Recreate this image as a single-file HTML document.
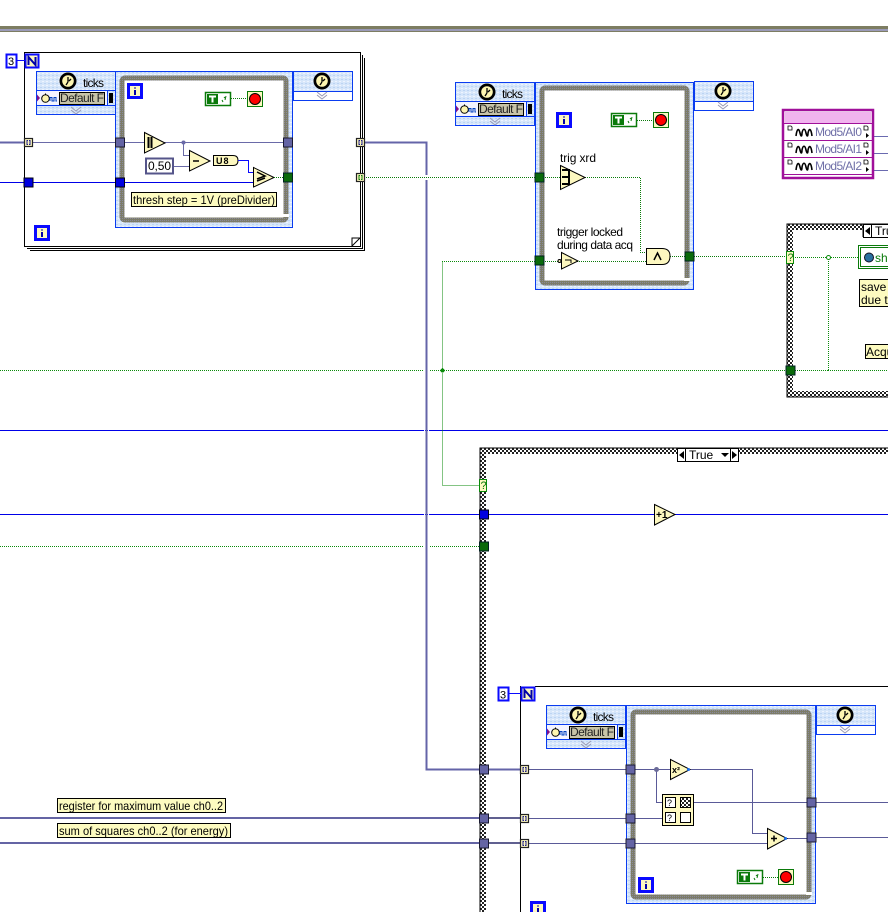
<!DOCTYPE html>
<html><head><meta charset="utf-8"><style>
html,body{margin:0;padding:0;background:#fff;width:888px;height:912px;overflow:hidden}
svg{display:block;position:absolute;left:0;top:0}
text{font-family:"Liberation Sans",sans-serif}
</style></head><body>
<svg width="888" height="912" viewBox="0 0 888 912" xmlns="http://www.w3.org/2000/svg">
<defs>
<pattern id="chk" width="4" height="4" patternUnits="userSpaceOnUse"><rect width="4" height="4" fill="#fff"/><rect width="2" height="2" fill="#222"/><rect x="2" y="2" width="2" height="2" fill="#222"/></pattern>
<pattern id="lb" width="4" height="4" patternUnits="userSpaceOnUse"><rect width="4" height="4" fill="#d6e6fa"/><rect width="2" height="1" fill="#bcd4f4"/><rect x="2" y="2" width="2" height="1" fill="#eef4ff"/></pattern>
<pattern id="fr" width="2" height="2" patternUnits="userSpaceOnUse"><rect width="2" height="2" fill="#7c7c68"/><rect width="1" height="1" fill="#8a8a9c"/></pattern>
<g id="clock"><circle r="8.500" fill="#000"/><circle r="5.800" fill="#fdf5b0"/><path d="M0-4V1M0 1L-2 4M3-2L1 0" stroke="#000" stroke-width="1.300" fill="none"/></g>
<g id="chev"><path d="M-5-3L0 1L5-3M-5 0L0 4L5 0" fill="none" stroke="#9a9ab4" stroke-width="1"/></g>
<g id="rnode"><rect x=".5" y=".5" width="59" height="29" fill="#fff" stroke="#0a3cf0"/><rect x="1" y="1" width="58" height="19" fill="url(#lb)"/><path d="M1 20.500H59" stroke="#0a3cf0"/><use href="#clock" x="29" y="10"/><use href="#chev" x="29" y="24"/></g>
<g id="lnodebg"><rect x=".5" y=".5" width="79" height="43" fill="url(#lb)" stroke="#0a3cf0"/><path d="M0 19.500H80M0 34.500H80M71.500 20V34" stroke="#0a3cf0"/><rect x="1" y="20" width="70" height="14" fill="#f4f4ff"/><rect x="23.500" y="21.500" width="45" height="12" fill="#c8c4a8" stroke="#000"/><rect x="73" y="22" width="4" height="10" fill="#000"/><path d="M1 23.500L4 27L1 30.500Z" fill="#80108a"/><circle cx="9.500" cy="27.500" r="3.800" fill="#fdf5b0" stroke="#000"/><path d="M9.500 22.500V24" stroke="#000"/><path d="M14 30V26.500H16V30H18V26.500H20V30H21" fill="none" stroke="#0040c0"/><use href="#clock" x="32" y="10"/><use href="#chev" x="40" y="39"/></g>
<g id="stop"><rect x=".5" y=".5" width="15" height="15" fill="#fdf8c0" stroke="#0a7a0a"/><circle cx="8" cy="8" r="5.500" fill="#f00" stroke="#000"/></g>
<g id="tconst"><rect x=".5" y=".5" width="25" height="13" fill="#fff" stroke="#0a7a0a" stroke-width="1.500"/><rect x="2" y="2" width="11" height="10" fill="#0a7a0a"/><path d="M4 4.500H11M7.500 4.500V10.500" stroke="#fff" stroke-width="2"/><path d="M17 8l1 2M19 5l1 1M21 4l-1 4" stroke="#0a7a0a" fill="none"/></g>
<g id="tun"><rect x=".5" y=".5" width="8" height="8" fill="#fdf8c0" stroke="#222" stroke-width="1.200"/><path d="M4 2.500H3V6.500H4M5 2.500H6V6.500H5" stroke="#1a1a8a" fill="none"/></g>
<g id="tung"><rect x=".5" y=".5" width="8" height="8" fill="#fdf8c0" stroke="#222" stroke-width="1.200"/><path d="M4 2.500H3V6.500H4M5 2.500H6V6.500H5" stroke="#0a7a0a" fill="none"/></g>
<g id="np"><rect x="-4.500" y="-4.500" width="9" height="9" fill="#6464a4" stroke="#1a1a30"/></g>
<g id="nb"><rect x="-4.500" y="-4.500" width="9" height="9" fill="#0000e0" stroke="#001"/></g>
<g id="ng"><rect x="-4.500" y="-4.500" width="9" height="9" fill="#0a6a0a" stroke="#022"/></g>
<g id="ibox"><rect x="1.500" y="1.500" width="13" height="13" fill="#fdf8c0" stroke="#0a0aff" stroke-width="3"/><path d="M8 4.500V5.500M8 7V12" stroke="#00a" stroke-width="2"/></g>
<g id="wave"><path d="M0 9C1 1 3 1 4 6C5 10 6 10 6 6C7 1 9 1 10 6C11 10 12 10 12 6C13 1 15 1 16 9" fill="none" stroke="#000" stroke-width="1.600"/></g>
</defs>

<!-- top bar -->
<rect x="0" y="26" width="888" height="6" fill="#7d7d62"/>
<rect x="0" y="29" width="888" height="2" fill="#9a9ab8"/>

<!-- big case structures -->
<rect x="480" y="448" width="420" height="480" fill="url(#chk)" stroke="#000"/>
<rect x="486" y="454" width="410" height="470" fill="#fff"/>
<rect x="787" y="224" width="110" height="173" fill="url(#chk)" stroke="#000"/>
<rect x="793" y="230" width="100" height="161" fill="#fff"/>

<!-- long wires -->
<g fill="none" stroke-width="1">
<path d="M0 430.500H888M0 514.500H654M675 514.500H888" stroke="#0000e8"/>
<path d="M0 182.500H253" stroke="#0000e8"/>
<path d="M0 370.500H787M791 370.500H828.500V257M795 257.500H858M442.500 261.500V485.500H480M442 261.500H535M0 546.500H480" stroke="#0a8a0a" stroke-dasharray="1 1"/>
<path d="M670 256.500H787" stroke="#0a7a0a" stroke-dasharray="1 1"/>
<path d="M0 142.500H24M360 142.500H426.500V769.500H520" stroke="#6464a8" stroke-width="2"/>
<path d="M0 818H484M0 843H484" stroke="#6464a4" stroke-width="2"/>
<path d="M484 818H520M484 843H520" stroke="#606090" stroke-width="2"/>
<path d="M520 818.500H662M520 843.500H767" stroke="#5a5a98"/>
<path d="M874 136.500H888M874 153.500H888M874 170.500H888" stroke="#6a6ab0"/>
</g>
<rect x="424" y="175" width="5" height="5" fill="#fff"/>
<path d="M292 177.500H535" stroke="#0a7a0a" stroke-dasharray="1 1"/>
<rect x="424" y="368" width="1" height="5" fill="#fff"/><rect x="428" y="368" width="1" height="5" fill="#fff"/>
<rect x="424" y="428" width="1" height="5" fill="#fff"/><rect x="428" y="428" width="1" height="5" fill="#fff"/>
<rect x="424" y="512" width="1" height="5" fill="#fff"/><rect x="428" y="512" width="1" height="5" fill="#fff"/>
<rect x="424" y="544" width="1" height="5" fill="#fff"/><rect x="428" y="544" width="1" height="5" fill="#fff"/>

<!-- upper left for loop -->
<path d="M30 250.500H364.500V58" fill="none" stroke="#000"/>
<path d="M27 248.500H362.500V55" fill="none" stroke="#000"/>
<rect x="24.500" y="52.500" width="336" height="194" fill="#fff" stroke="#000"/>
<path d="M352 246L360 238H352Z" fill="#fff" stroke="#000"/>
<path d="M33 142.500H116" stroke="#6a6aa8"/>
<path d="M33 182.500H116" stroke="#0000e8"/>
<rect x="6.500" y="54.500" width="10" height="13" fill="#fff" stroke="#0a0aff" stroke-width="2"/>
<text x="8" y="65" font-size="11">3</text>
<path d="M17 60.500H25" stroke="#0a0aff"/>
<rect x="25.500" y="54.500" width="13" height="13" fill="#fdf8c0" stroke="#0a0aff" stroke-width="2"/>
<path d="M28.500 65V57L35.500 65V57" fill="none" stroke="#00a" stroke-width="2"/>
<use href="#ibox" x="34" y="225"/>
<use href="#tun" x="24" y="138"/>
<use href="#nb" x="28.500" y="182.500"/>
<use href="#tun" x="356" y="138"/>
<use href="#tung" x="356" y="173"/>
<!-- timed loop 1 -->
<use href="#lnodebg" x="36" y="71"/>
<text x="83" y="87" font-size="12" textLength="21">ticks</text>
<text x="60" y="102" font-size="12" textLength="44" fill="#222">Default F</text>
<use href="#rnode" x="293" y="71"/>
<rect x="115.500" y="71.500" width="177" height="156" fill="url(#lb)" stroke="#0a3cf0"/>
<rect x="122" y="78" width="164" height="142" rx="3" fill="#fff" stroke="url(#fr)" stroke-width="5"/>
<rect x="283" y="214" width="6" height="3" fill="#fff"/>
<path d="M120 142.500H289" stroke="#6a6aa8"/>
<path d="M120 182.500H253" stroke="#0000e8"/>
<use href="#ibox" x="127" y="83"/>
<use href="#tconst" x="205" y="92"/><path d="M231 98.500H247" stroke="#0a7a0a" stroke-dasharray="1 1"/><use href="#stop" x="247" y="91"/>
<path d="M144.500 132.500L165 143L144.500 153Z" fill="#fdf8c0" stroke="#000"/><path d="M148.500 137V148M151.500 137V148" stroke="#000" stroke-width="2"/>
<circle cx="183.500" cy="142.500" r="2" fill="#6a6aa8"/>
<path d="M183.500 142V155.500H189M174 166.500H189" fill="none" stroke="#6a6aa8"/>
<rect x="146" y="158.500" width="27" height="15" fill="#fff" stroke="#55558a" stroke-width="2"/>
<text x="148" y="170" font-size="12" textLength="23">0,50</text>
<path d="M189.500 150.500L210 161L189.500 171Z" fill="#fdf8c0" stroke="#000"/><path d="M193 161H199" stroke="#000" stroke-width="1.500"/>
<path d="M213.500 155.500H233Q238 155.500 238 160.500Q238 165.500 233 165.500H213.500Z" fill="#fdf8c0" stroke="#000"/>
<text x="216" y="164" font-size="9" font-weight="bold" letter-spacing="1">U8</text>
<path d="M238 160.500H248.500V172.500H253" fill="none" stroke="#0a0aff"/>
<path d="M253.500 167.500L274 177.500L253.500 187Z" fill="#fdf8c0" stroke="#000"/><path d="M257 172L265 176L257 179M257 181L265 178" fill="none" stroke="#000" stroke-width="1.500"/>
<path d="M274 177.500H288" stroke="#0a7a0a" stroke-dasharray="1 1"/>
<use href="#np" x="120" y="142.500"/><use href="#nb" x="120" y="182.500"/><use href="#np" x="288" y="142.500"/><use href="#ng" x="288" y="177.500"/>
<rect x="131.500" y="192.500" width="145" height="14" fill="#fdfbc0" stroke="#000"/>
<text x="133" y="204" font-size="12" textLength="142" lengthAdjust="spacingAndGlyphs">thresh step = 1V (preDivider)</text>

<!-- timed loop 2 -->
<use href="#lnodebg" x="455" y="82"/>
<text x="502" y="98" font-size="12" textLength="21">ticks</text>
<text x="479" y="113" font-size="12" textLength="44" fill="#222">Default F</text>
<use href="#rnode" x="694" y="81"/>
<rect x="535.500" y="82.500" width="158" height="207" fill="url(#lb)" stroke="#0a3cf0"/>
<rect x="542" y="88" width="145" height="195" rx="3" fill="#fff" stroke="url(#fr)" stroke-width="5"/>
<rect x="684" y="278" width="6" height="3" fill="#fff"/>
<use href="#ibox" x="556" y="112"/>
<use href="#tconst" x="611" y="113"/><path d="M637 120.500H653" stroke="#0a7a0a" stroke-dasharray="1 1"/><use href="#stop" x="653" y="112"/>
<text x="560" y="162" font-size="12" textLength="36">trig xrd</text>
<path d="M539 177.500H561M585 177.500H640.500V252.500H646M539 261.500H646M670 256.500H689" fill="none" stroke="#0a7a0a" stroke-dasharray="1 1"/>
<path d="M560.500 165.500L585 177.500L560.500 189.500Z" fill="#fdf8c0" stroke="#000"/><path d="M562 170H569V184H562M562 177H569" fill="none" stroke="#000" stroke-width="2"/>
<text x="557" y="236" font-size="12" textLength="66">trigger locked</text>
<text x="557" y="249" font-size="12" textLength="76">during data acq</text>
<path d="M561.500 252.500L578 261L561.500 269Z" fill="#fdf8c0" stroke="#000"/><circle cx="559.500" cy="261" r="1.500" fill="#fdf8c0" stroke="#000"/><path d="M565 260H571V263" fill="none" stroke="#000"/>
<path d="M646.500 248.500H662Q670 248.500 670 256Q670 264.500 662 264.500H646.500Z" fill="#fdf8c0" stroke="#000"/><path d="M654 260L657.500 253L661 260" fill="none" stroke="#000" stroke-width="1.500"/>
<use href="#ng" x="539.500" y="177.500"/><use href="#ng" x="539.500" y="260.500"/><use href="#ng" x="689.500" y="256.500"/>

<!-- mod5 -->
<rect x="783" y="110" width="90" height="68" fill="#fff" stroke="#a0109a" stroke-width="2.500"/>
<rect x="785" y="112" width="86" height="11" fill="#f0b4ee"/>
<path d="M784 123.500H872M784 140.500H872M784 157.500H872M784 174.500H872" stroke="#a0109a"/>
<use href="#wave" x="796" y="127"/><use href="#wave" x="796" y="144"/><use href="#wave" x="796" y="161"/>
<text x="815" y="136" font-size="12" fill="#7070a8" textLength="47">Mod5/AI0</text>
<text x="815" y="153" font-size="12" fill="#7070a8" textLength="47">Mod5/AI1</text>
<text x="815" y="170" font-size="12" fill="#7070a8" textLength="47">Mod5/AI2</text>
<path d="M788 126h3l1 1v3h-4ZM788 143h3l1 1v3h-4ZM788 160h3l1 1v3h-4ZM864 126h3l1 1v3h-4ZM864 143h3l1 1v3h-4ZM864 160h3l1 1v3h-4Z" fill="#fff" stroke="#000" stroke-width=".8"/>
<path d="M866 133l3 2.500l-3 2.500ZM866 150l3 2.500l-3 2.500ZM866 167l3 2.500l-3 2.500Z" fill="#000"/>

<!-- upper right case -->
<rect x="863.500" y="224.500" width="30" height="13" fill="#fff" stroke="#000"/>
<path d="M863 224V237M871.500 224V237" stroke="#000"/><path d="M870 227V235L865 231Z" fill="#000"/>
<text x="875" y="235" font-size="12">Tru</text>
<rect x="786.500" y="251.500" width="7" height="12" fill="#fdf8c0" stroke="#0a8a0a"/>
<text x="787.500" y="261" font-size="11" fill="#0a7a0a">?</text>
<use href="#ng" x="790.500" y="370.500"/>
<circle cx="828.500" cy="257.500" r="2" fill="#fff" stroke="#0a8a0a"/>
<circle cx="442.500" cy="370.500" r="2" fill="#0a8a0a"/>
<path d="M828 370.500H888" stroke="#0a8a0a" stroke-dasharray="1 1"/>
<rect x="858.500" y="245.500" width="40" height="23" fill="#fff" stroke="#0a7a0a"/>
<rect x="860.500" y="247.500" width="40" height="19" fill="#fff" stroke="#0a7a0a"/>
<circle cx="869" cy="257.500" r="4.500" fill="#2a70a0" stroke="#112"/>
<text x="875" y="262" font-size="12" fill="#0a7a0a">sho</text>
<rect x="859.500" y="279.500" width="40" height="27" fill="#fdfbc0" stroke="#000"/>
<text x="861" y="291" font-size="12">save s</text>
<text x="861" y="304" font-size="12">due to</text>
<rect x="865.500" y="344.500" width="40" height="14" fill="#fdfbc0" stroke="#000"/>
<text x="866" y="356" font-size="12">Acqu</text>

<!-- big case contents -->
<rect x="677.500" y="448.500" width="61" height="13" fill="#fff" stroke="#000"/>
<path d="M685.500 448V462M730.500 448V462" stroke="#000"/>
<path d="M684 451V459L679 455ZM732 451V459L737 455Z" fill="#000"/>
<path d="M721 453H729L725 457Z" fill="#000"/>
<text x="689" y="459" font-size="12">True</text>
<rect x="479.500" y="479.500" width="7" height="12" fill="#fdf8c0" stroke="#0a8a0a"/>
<text x="480.500" y="489" font-size="11" fill="#0a7a0a">?</text>
<use href="#nb" x="484" y="514.500"/>
<use href="#ng" x="484" y="546.500"/>
<path d="M654.500 504.500L675 514.500L654.500 525Z" fill="#fdf8c0" stroke="#000"/>
<text x="656" y="518" font-size="10" font-weight="bold">+1</text>

<!-- lower for loop -->
<path d="M535 686.500H888M520.500 686V912" stroke="#000" fill="none"/>
<rect x="498.500" y="687.500" width="10" height="13" fill="#fff" stroke="#0a0aff" stroke-width="2"/>
<text x="500" y="698.500" font-size="11">3</text>
<path d="M509 693.500H521" stroke="#0a0aff"/>
<rect x="521.500" y="687.500" width="13" height="13" fill="#fdf8c0" stroke="#0a0aff" stroke-width="2"/>
<path d="M524.500 698V690L531.500 698V690" fill="none" stroke="#00a" stroke-width="2"/>
<use href="#ibox" x="530" y="901"/>
<use href="#np" x="484" y="769.500"/><use href="#np" x="484" y="818.500"/><use href="#np" x="484" y="843.500"/>
<path d="M529 769.500H630" stroke="#5a5a98"/>
<use href="#tun" x="520" y="765"/><use href="#tun" x="520" y="814"/><use href="#tun" x="520" y="839"/>

<use href="#lnodebg" x="546" y="705"/>
<text x="593" y="721" font-size="12" textLength="21">ticks</text>
<text x="570" y="736" font-size="12" textLength="44" fill="#222">Default F</text>
<use href="#rnode" x="816" y="705"/>
<rect x="626.500" y="705.500" width="189" height="198" fill="url(#lb)" stroke="#0a3cf0"/>
<rect x="633" y="712" width="176" height="185" rx="3" fill="#fff" stroke="url(#fr)" stroke-width="5"/>
<rect x="806" y="892" width="6" height="3" fill="#fff"/>
<path d="M630 769.500H670M656.500 769V802.500H662M630 818.500H662M630 843.500H767M690 769.500H752.500V833.500H767M694 802.500H888M787 838.500H811M811 837.500H888" fill="none" stroke="#5a5a98"/>
<circle cx="656.500" cy="769.500" r="2.500" fill="#6a6a98"/>
<path d="M670.500 759.500L690 769.500L670.500 779.500Z" fill="#fdf8c0" stroke="#000"/>
<text x="672" y="773" font-size="9" font-weight="bold">x²</text>
<circle cx="688.500" cy="769.500" r="1.500" fill="#1a70f0"/>
<rect x="662.500" y="794.500" width="31" height="31" fill="#fdf8c0" stroke="#000"/>
<rect x="665.500" y="797.500" width="10" height="10" fill="#fff" stroke="#000"/><rect x="665.500" y="812.500" width="10" height="10" fill="#fff" stroke="#000"/>
<text x="667" y="806" font-size="9">?</text><text x="667" y="821" font-size="9">?</text>
<rect x="680.500" y="797.500" width="10" height="10" fill="url(#chk)" stroke="#000"/><rect x="680.500" y="812.500" width="10" height="10" fill="#fff" stroke="#000"/>
<path d="M767.500 828.500L787 838.500L767.500 849Z" fill="#fdf8c0" stroke="#000"/><path d="M771 838.500H777M774 835.500V841.500" stroke="#000" stroke-width="1.500"/>
<circle cx="785.500" cy="838.500" r="1.500" fill="#1a70f0"/>
<use href="#np" x="630.500" y="769.500"/><use href="#np" x="630.500" y="818.500"/><use href="#np" x="630.500" y="843.500"/>
<use href="#np" x="811.500" y="802.500"/><use href="#np" x="811.500" y="837.500"/>
<use href="#tconst" x="737" y="870"/><path d="M763 877.500H778" stroke="#0a7a0a" stroke-dasharray="1 1"/><use href="#stop" x="778" y="869"/>
<use href="#ibox" x="638" y="877"/>

<!-- notes -->
<rect x="57.500" y="798.500" width="168" height="14" fill="#fdfbc0" stroke="#000"/>
<text x="59" y="810" font-size="12" textLength="164" lengthAdjust="spacingAndGlyphs">register for maximum value ch0..2</text>
<rect x="57.500" y="823.500" width="173" height="14" fill="#fdfbc0" stroke="#000"/>
<text x="59" y="835" font-size="12" textLength="169" lengthAdjust="spacingAndGlyphs">sum of squares ch0..2 (for energy)</text>
</svg>
</body></html>
